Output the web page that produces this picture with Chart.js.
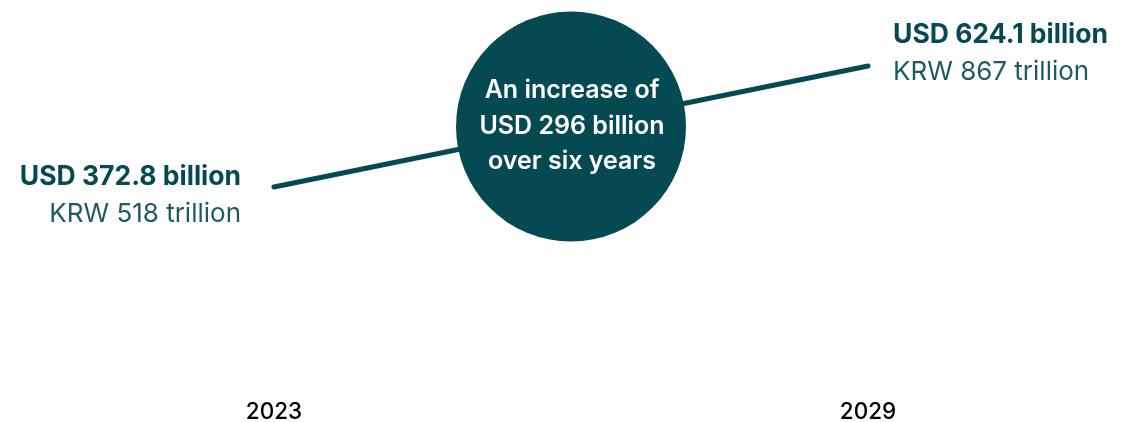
<!DOCTYPE html>
<html>
<head>
<meta charset="utf-8">
<script src="https://cdn.jsdelivr.net/npm/chart.js@4/dist/chart.umd.min.js"></script>
<style>
  html, body { margin: 0; padding: 0; background: #ffffff; }
  #wrap { width: 1129px; height: 422px; }
</style>
</head>
<body>
<div id="wrap"><canvas id="c" width="1129" height="422"></canvas></div>
<script>
const years = [2023, 2029];
const usdBillion = [372.8, 624.1];
const usdLabels = ['USD 372.8 billion', 'USD 624.1 billion'];
const krwLabels = ['KRW 518 trillion', 'KRW 867 trillion'];
const calloutLines = ['An increase of', 'USD 296 billion', 'over six years'];

const TEAL = '#054a53';
const FONT = 'Inter, "Noto Sans", sans-serif';

const midX = (years[0] + years[1]) / 2;
const midY = (usdBillion[0] + usdBillion[1]) / 2;

const labelsPlugin = {
  id: 'labelsPlugin',
  afterDatasetsDraw(chart) {
    const ctx = chart.ctx;
    const pts = chart.getDatasetMeta(1).data;
    ctx.save();
    const p0 = pts[0], p1 = pts[1];
    ctx.textBaseline = 'middle';
    ctx.textAlign = 'right';
    ctx.fillStyle = TEAL;
    ctx.font = '700 26.5px ' + FONT;
    ctx.fillText(usdLabels[0], p0.x - 33, p0.y - 10);
    ctx.fillStyle = '#1d5b64';
    ctx.font = '400 26px ' + FONT;
    ctx.fillText(krwLabels[0], p0.x - 33, p0.y + 27.5);
    ctx.textAlign = 'left';
    ctx.fillStyle = TEAL;
    ctx.font = '700 26.5px ' + FONT;
    ctx.fillText(usdLabels[1], p1.x + 25, p1.y - 31.5);
    ctx.fillStyle = '#1d5b64';
    ctx.font = '400 26px ' + FONT;
    ctx.fillText(krwLabels[1], p1.x + 25, p1.y + 6.5);
    const c = chart.getDatasetMeta(0).data[0];
    ctx.textAlign = 'center';
    ctx.fillStyle = '#ffffff';
    ctx.font = '600 25px ' + FONT;
    calloutLines.forEach((t, i) => {
      ctx.fillText(t, c.x + 1, c.y - 36 + i * 35.5);
    });
    ctx.restore();
  }
};

new Chart(document.getElementById('c'), {
  type: 'line',
  data: {
    datasets: [
      {
        label: 'callout',
        data: [{ x: midX, y: midY }],
        showLine: false,
        pointRadius: 115,
        pointHoverRadius: 115,
        pointBackgroundColor: TEAL,
        pointBorderWidth: 0,
        clip: false,
        order: 0
      },
      {
        label: 'market',
        data: years.map((y, i) => ({ x: y, y: usdBillion[i] })),
        borderColor: TEAL,
        borderWidth: 5,
        borderCapStyle: 'round',
        pointRadius: 0,
        fill: false,
        clip: false,
        order: 1
      }
    ]
  },
  options: {
    responsive: false,
    animation: false,
    events: [],
    layout: { autoPadding: false, padding: { left: 274, right: 261, top: 29.5, bottom: 0 } },
    plugins: { legend: { display: false }, tooltip: { enabled: false } },
    scales: {
      x: {
        type: 'linear',
        min: years[0],
        max: years[1],
        afterBuildTicks(scale) { scale.ticks = years.map(v => ({ value: v })); },
        afterFit(scale) { scale.height = 57; },
        grid: { display: false, drawTicks: false },
        border: { display: false },
        ticks: {
          padding: 34,
          color: '#000000',
          font: { family: FONT, size: 22.5, weight: '500' },
          maxRotation: 0,
          callback: v => String(v)
        }
      },
      y: {
        display: false,
        min: 3,
        max: 700
      }
    }
  },
  plugins: [labelsPlugin]
});
</script>
</body>
</html>
